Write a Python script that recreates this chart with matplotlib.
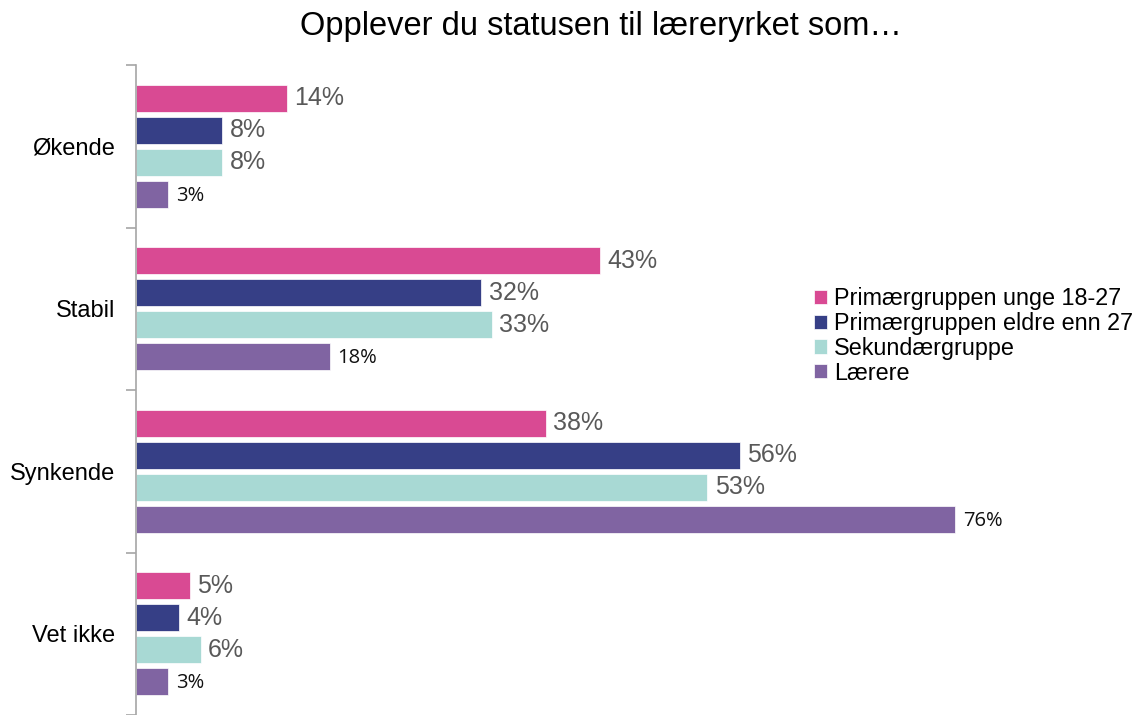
import matplotlib
matplotlib.use("Agg")
import matplotlib.pyplot as plt
import numpy as np

categories = ["Økende", "Stabil", "Synkende", "Vet ikke"]
series_names = ["Primærgruppen unge 18-27", "Primærgruppen eldre enn 27", "Sekundærgruppe", "Lærere"]
primaer_unge = [14, 43, 38, 5]
primaer_eldre = [8, 32, 56, 4]
sekundaer = [8, 33, 53, 6]
laerere = [3, 18, 76, 3]
series_values = [primaer_unge, primaer_eldre, sekundaer, laerere]
colors = ["#D94A93", "#363F86", "#A8D9D4", "#8064A2"]

W, H = 1140, 715
fig = plt.figure(figsize=(W/100, H/100), dpi=100)
ax = fig.add_axes([136/W, 0, 1 - 136/W, 1 - 65/H])

px_per_cat = 650/4
step = 32/px_per_cat
bh = 27/px_per_cat
y = np.arange(len(categories))
for i, (name, vals, c) in enumerate(zip(series_names, series_values, colors)):
    pos = y + (i - 1.5) * step
    ax.barh(pos, vals, height=bh, color=c, label=name, edgecolor="white", linewidth=0.5)
    for p, v in zip(pos, vals):
        if i < 3:
            ax.text(v + 0.7, p, f"{v}%", va="center", ha="left", fontsize=18,
                    color="#595959", family="Liberation Sans")
        else:
            ax.text(v + 0.7, p + 0.01, f"{v}%", va="center", ha="left", fontsize=14.5,
                    color="#111111", family="Open Sans")

ax.set_ylim(len(categories) - 0.5, -0.5)
ax.set_xlim(0, (W - 136) / 10.78)
ax.set_yticks(np.arange(-0.5, len(categories) + 0.5, 1))
ax.set_yticklabels([])
ax.set_yticks(y, minor=True)
ax.set_yticklabels(categories, minor=True, fontsize=17, family="Liberation Sans")
ax.tick_params(axis="y", which="minor", length=0, pad=15)
ax.tick_params(axis="y", which="major", length=7, color="#A6A6A6", width=1.2)
ax.set_xticks([])
for s in ["top", "right", "bottom"]:
    ax.spines[s].set_visible(False)
ax.spines["left"].set_color("#A6A6A6")
ax.spines["left"].set_linewidth(1.2)

fig.text(601/W, 1 - 27/H, "Opplever du statusen til læreryrket som…", ha="center", va="center",
         fontsize=23.5, family="Liberation Sans")

leg = ax.legend(loc="upper left", bbox_to_anchor=((814 - 136) / (W - 136), (715 - 287) / 650),
                frameon=False, prop={"family": "Liberation Sans", "size": 16.8},
                handlelength=0.55, handleheight=0.55, handletextpad=0.3, labelspacing=0.08,
                borderaxespad=0, borderpad=0)

fig.savefig("out.png", dpi=100)
